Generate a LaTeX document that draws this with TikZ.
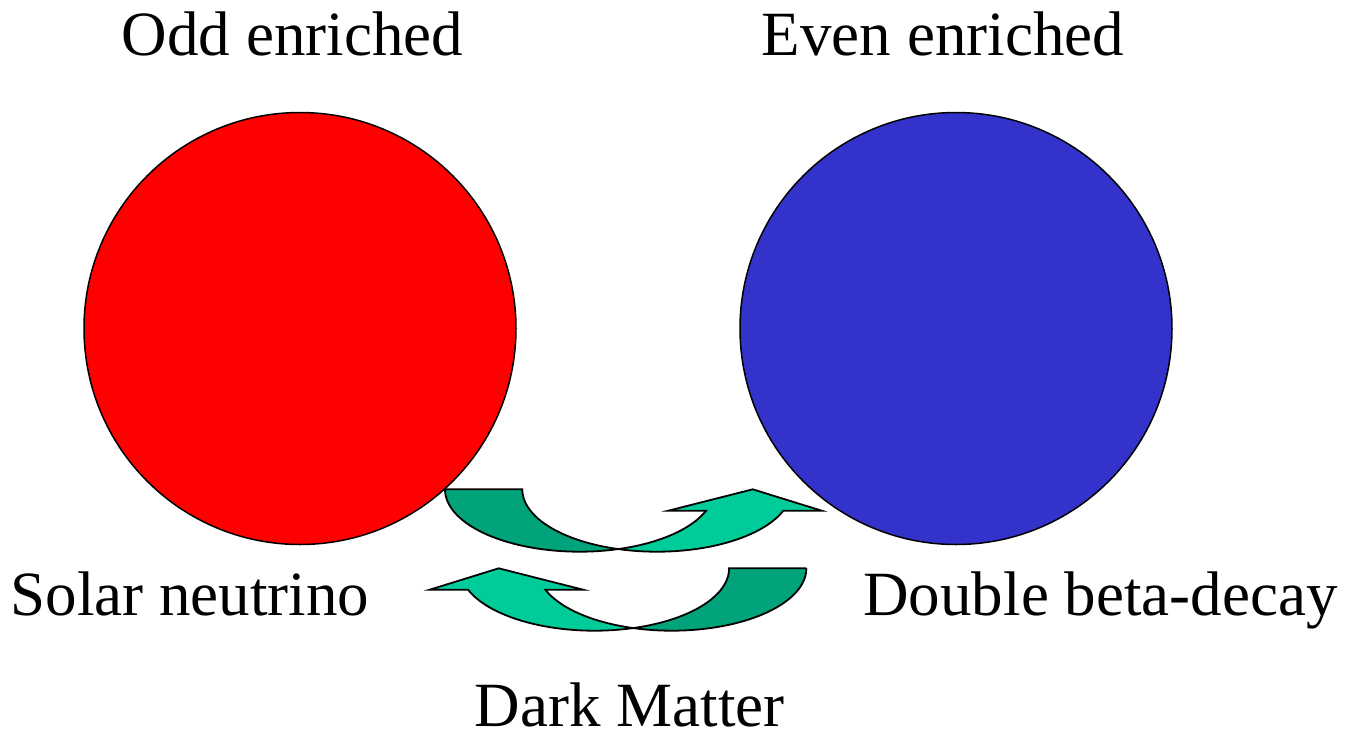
\documentclass[tikz,border=0pt]{standalone}
\usepackage{fontspec}
\setmainfont{Liberation Serif}
\definecolor{oddred}{RGB}{255,0,0}
\definecolor{evenblue}{RGB}{51,51,204}
\definecolor{arrowfront}{RGB}{0,204,153}
\definecolor{arrowback}{RGB}{0,163,122}

% One curved "swap" arrow: darker back face on the left, lighter front face
% ending in the arrowhead on the right. Both edges are arcs of two equal
% ellipses whose centres are 77.3 units apart.
\newcommand\swapArrow{%
  \filldraw[face, fill=arrowback] (445,489.3) -- (522.3,489.3)
    -- plot[domain=180:106.7, samples=40, variable=\t]
         ({656.9+134.6*cos(\t)},{489.3+62.4*sin(\t)})
    -- plot[domain=73.3:180, samples=40, variable=\t]
         ({579.6+134.6*cos(\t)},{489.3+62.4*sin(\t)})
    -- cycle;
  \filldraw[face, fill=arrowfront]
    plot[domain=73.3:20.05, samples=40, variable=\t]
         ({579.6+134.6*cos(\t)},{489.3+62.4*sin(\t)})
    -- (668.3,510.7) -- (752.7,489.3) -- (821.7,510.7)
    -- plot[domain=20.05:106.7, samples=40, variable=\t]
         ({656.9+134.6*cos(\t)},{489.3+62.4*sin(\t)})
    -- cycle;
}

\begin{document}
\begin{tikzpicture}[x=0.5pt, y=-0.5pt,
  txt/.style={inner sep=0, anchor=base, font=\fontsize{31.5pt}{36pt}\selectfont},
  ball/.style={circle, draw=black, line width=0.75pt, inner sep=0, minimum size=216pt},
  face/.style={draw=black, line width=0.9pt, line join=miter},
]
\useasboundingbox (0,0) rectangle (1351,735);

% the two samples
\node[ball, fill=oddred]   (odd)  at (300,328.5) {};
\node[ball, fill=evenblue] (even) at (956,328.5) {};

% exchange arrows between them
\swapArrow
\begin{scope}[shift={(1251.4,79)}, xscale=-1]
  \swapArrow
\end{scope}

% captions
\node[txt] (oddtitle)  at (292.4,55)  {Odd enriched};
\node[txt] (eventitle) at (943,55)    {Even enriched};
\node[txt] (solar)     at (189.9,615) {Solar neutrino};
\node[txt] (dbd)       at (1100.5,615) {Double beta-decay};
\node[txt] (dm)        at (629.7,726.7) {Dark Matter};
\end{tikzpicture}
\end{document}
